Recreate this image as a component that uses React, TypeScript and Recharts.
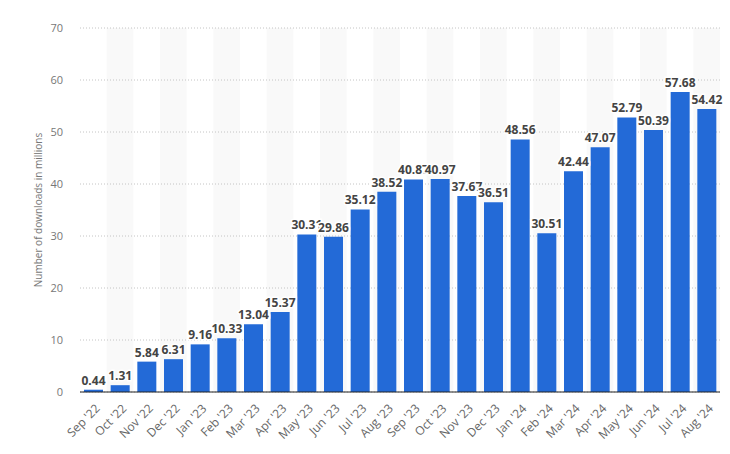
import React from 'react'
import {
  BarChart,
  Bar,
  XAxis,
  YAxis,
  CartesianGrid,
  ReferenceArea,
  LabelList,
} from 'recharts'

const months = [
  "Sep '22", "Oct '22", "Nov '22", "Dec '22", "Jan '23", "Feb '23",
  "Mar '23", "Apr '23", "May '23", "Jun '23", "Jul '23", "Aug '23",
  "Sep '23", "Oct '23", "Nov '23", "Dec '23", "Jan '24", "Feb '24",
  "Mar '24", "Apr '24", "May '24", "Jun '24", "Jul '24", "Aug '24",
]

const downloads = [
  0.44, 1.31, 5.84, 6.31, 9.16, 10.33, 13.04, 15.37, 30.31, 29.86, 35.12, 38.52,
  40.87, 40.97, 37.67, 36.51, 48.56, 30.51, 42.44, 47.07, 52.79, 50.39, 57.68, 54.42,
]

const yTicks = [0, 10, 20, 30, 40, 50, 60, 70]

const data = months.map((month, i) => ({ month, value: downloads[i] }))

const FONT = '"Open Sans", "Noto Sans", sans-serif'

// rotated month labels under the axis
const MonthTick = ({ x, y, payload }: any) => (
  <g transform={`translate(${x + 5},${y + 7})`}>
    <text
      transform="rotate(-45)"
      textAnchor="end"
      dominantBaseline="middle"
      fill="#666"
      fontSize={12}
      fontFamily={FONT}
    >
      {payload.value}
    </text>
  </g>
)

export default function App() {
  return (
    <div style={{ position: 'absolute', left: 0, top: 0, width: 730, height: 454, background: '#fff' }}>
      <BarChart
        width={730}
        height={454}
        data={data}
        margin={{ top: 28, right: 10, bottom: 0, left: 0 }}
      >
        {months.map((m, i) =>
          i % 2 === 1 ? (
            <ReferenceArea
              key={m}
              x1={m}
              x2={m}
              y1={0}
              y2={70}
              fill="#f9f9f9"
              fillOpacity={1}
              stroke="none"
              zIndex={-150}
            />
          ) : null
        )}
        <CartesianGrid vertical={false} stroke="#c4c4c4" strokeDasharray="1 2" />
        <XAxis
          dataKey="month"
          interval={0}
          tickLine={false}
          axisLine={{ stroke: '#222', strokeWidth: 1 }}
          tick={<MonthTick />}
          height={62}
        />
        <YAxis
          width={80}
          domain={[0, 70]}
          ticks={yTicks}
          axisLine={false}
          tickLine={false}
          tickSize={0}
          tickMargin={17}
          tick={{ fill: '#777', fontSize: 11, fontFamily: FONT }}
          label={{
            value: 'Number of downloads in millions',
            angle: -90,
            position: 'insideLeft',
            offset: 38,
            style: { textAnchor: 'middle', fill: '#777', fontSize: 10, fontFamily: FONT },
          }}
        />
        <Bar dataKey="value" fill="#236ad7" barSize={19} isAnimationActive={false}>
          <LabelList
            dataKey="value"
            position="top"
            offset={5}
            formatter={(v: any) => Number(v).toFixed(2)}
            style={{
              fill: '#444',
              fontSize: 12,
              fontWeight: 700,
              fontFamily: FONT,
              stroke: '#fff',
              strokeWidth: 3,
              paintOrder: 'stroke',
            }}
          />
        </Bar>
      </BarChart>
    </div>
  )
}
